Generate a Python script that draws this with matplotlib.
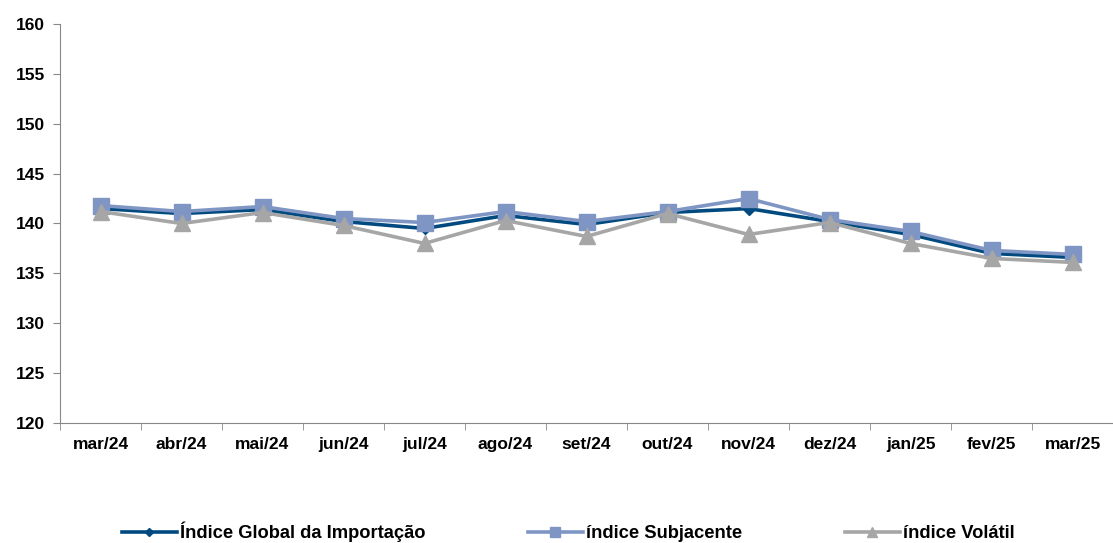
import matplotlib.pyplot as plt
import numpy as np

plt.rcParams['font.family'] = ['Liberation Sans', 'DejaVu Sans']
plt.rcParams['font.weight'] = 'bold'

months = ['mar/24', 'abr/24', 'mai/24', 'jun/24', 'jul/24', 'ago/24', 'set/24',
          'out/24', 'nov/24', 'dez/24', 'jan/25', 'fev/25', 'mar/25']
global_idx = [141.5, 141.0, 141.4, 140.2, 139.5, 140.8, 139.9, 141.1, 141.5, 140.2, 138.9, 137.0, 136.6]
subjacente = [141.8, 141.2, 141.7, 140.5, 140.1, 141.2, 140.2, 141.2, 142.5, 140.4, 139.2, 137.3, 136.9]
volatil = [141.2, 140.0, 141.1, 139.8, 138.0, 140.3, 138.7, 141.0, 138.9, 140.1, 138.0, 136.5, 136.1]

labels = ['Índice Global da Importação', 'índice Subjacente', 'índice Volátil']

fig = plt.figure(figsize=(11.13, 5.43), dpi=100)
ax = fig.add_axes([60 / 1113, 1 - 423 / 543, 1 - 60 / 1113, 399 / 543])

x = np.arange(len(months))
ax.plot(x, global_idx, color='#004A80', lw=2.6, marker='D', ms=6, label=labels[0], zorder=1)
ax.plot(x, subjacente, color='#7F96C4', lw=2.6, marker='s', ms=11, label=labels[1], zorder=2)
ax.plot(x, volatil, color='#A6A6A6', lw=2.6, marker='^', ms=11.5, label=labels[2], zorder=3)

ax.set_ylim(120, 160)
ax.set_yticks(np.arange(120, 161, 5))
ax.set_xlim(-0.5, len(months) - 0.5)
ax.set_xticks(x)
ax.set_xticklabels(months)
ax.set_xticks(np.arange(-0.5, len(months), 1), minor=True)
ax.tick_params(axis='x', which='major', length=0, pad=10, labelsize=12.5)
ax.tick_params(axis='x', which='minor', length=5, color='#888888', direction='out')
ax.tick_params(axis='y', length=5, color='#888888', labelsize=12.5, pad=6)

for s in ['top', 'right']:
    ax.spines[s].set_visible(False)
for s in ['left', 'bottom']:
    ax.spines[s].set_color('#888888')

fig.legend(loc='center', bbox_to_anchor=(568 / 1113, 1 - 532 / 543), ncol=3, frameon=False,
           fontsize=13.2, handlelength=3.0, handletextpad=0.16, columnspacing=5.6,
           markerscale=0.65)

fig.savefig('out.png', dpi=100)
